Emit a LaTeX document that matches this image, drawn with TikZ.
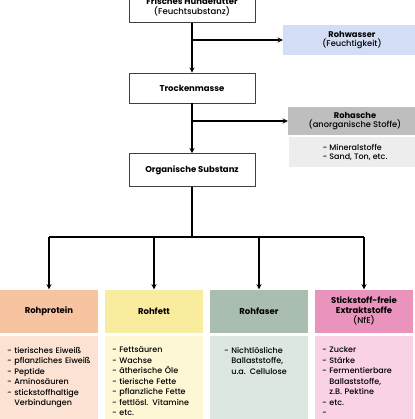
\documentclass[tikz,border=0pt]{standalone}
\usepackage{fontspec}
\setmainfont{Poppins}[UprightFont={* Medium}, BoldFont={* Bold}]
\usetikzlibrary{positioning}

\definecolor{wasserblau}{HTML}{D3DEF6}
\definecolor{aschegrau}{HTML}{BEBEBE}
\definecolor{aschehell}{HTML}{EDEDED}
\definecolor{proteinkopf}{HTML}{F8C3A0}
\definecolor{proteinhell}{HTML}{FCE2D3}
\definecolor{fettkopf}{HTML}{FAEC9E}
\definecolor{fetthell}{HTML}{FEF7D6}
\definecolor{faserkopf}{HTML}{A9BDB1}
\definecolor{faserhell}{HTML}{DCE7E0}
\definecolor{nfekopf}{HTML}{EA93BC}
\definecolor{nfehell}{HTML}{F9D2E5}

\newcommand{\spalte}[1]{\parbox[t][74pt][t]{\linewidth}{\raggedright #1}}
\newcommand{\weiter}{\hphantom{- }}

\tikzset{
  stufe/.style={draw=black!75, line width=0.7pt, fill=white, minimum width=126pt,
    minimum height=30pt, align=center, inner sep=1pt, font=\fontsize{8.5}{10}\selectfont},
  seite/.style={minimum height=28pt, align=center, inner sep=1pt,
    font=\fontsize{8.3}{9.5}\selectfont},
  kopf/.style={minimum width=98pt, minimum height=43pt, align=center, inner sep=1pt,
    font=\bfseries\fontsize{8.5}{10}\selectfont},
  liste/.style={minimum width=98pt, text width=84pt, inner ysep=11pt, align=left,
    font=\fontsize{8}{10.5}\selectfont},
  pfeil/.style={->, line width=1.3pt},
}

\begin{document}
\begin{tikzpicture}[x=1pt, y=1pt, >=stealth]
  \useasboundingbox (0,0) rectangle (414,-419);

  % Hauptstrang
  \node[stufe, minimum height=31pt] (futter) at (192,-7) {\textbf{Frisches Hundefutter}\\(Feuchtsubstanz)};
  \node[stufe] (trocken) at (192,-88) {\textbf{Trockenmasse}};
  \node[stufe, minimum height=33pt] (organ) at (192,-170) {\textbf{Organische Substanz}};

  % Seitenzweige
  \node[seite, fill=wasserblau, minimum width=138pt, minimum height=30pt] (wasser) at (352,-40)
    {\textbf{Rohwasser}\\(Feuchtigkeit)};
  \node[seite, fill=aschegrau, minimum width=134pt] (asche) at (355,-121)
    {\textbf{Rohasche}\\(anorganische Stoffe)};
  \node[seite, fill=aschehell, minimum width=132pt, minimum height=30pt, align=left,
    font=\fontsize{8}{9.5}\selectfont, below=2pt of asche] (ascheliste)
    {- Mineralstoffe\\- Sand, Ton, etc.};

  \draw[pfeil] (futter) -- (trocken);
  \draw[pfeil] (trocken) -- (organ);
  \draw[pfeil] (futter.south |- wasser.west) -- (wasser.west);
  \draw[pfeil] (trocken.south |- asche.west) -- (asche.west);

  % Naehrstoffgruppen
  \node[kopf, fill=proteinkopf] (protein) at (49,-311) {Rohprotein};
  \node[kopf, fill=fettkopf] (fett) at (154,-311) {Rohfett};
  \node[kopf, fill=faserkopf] (faser) at (259,-311) {Rohfaser};
  \node[kopf, fill=nfekopf] (nfe) at (364,-311) {Stickstoff-freie\\Extraktstoffe\\\mdseries(NfE)};

  \node[liste, fill=proteinhell, below=3pt of protein] (proteinliste) {\spalte{%
    - tierisches Eiweiß\\- pflanzliches Eiweiß\\- Peptide\\- Aminosäuren\\
    - stickstoffhaltige\\\weiter Verbindungen}};
  \node[liste, fill=fetthell, below=3pt of fett] (fettliste) {\spalte{%
    - Fettsäuren\\- Wachse\\- ätherische Öle\\- tierische Fette\\
    - pflanzliche Fette\\- fettlösl. Vitamine\\- etc.}};
  \node[liste, fill=faserhell, text width=70pt, below=3pt of faser] (faserliste) {\spalte{%
    - Nichtlösliche\\\weiter Ballaststoffe,\\\weiter u.a. Cellulose}};
  \node[liste, fill=nfehell, below=3pt of nfe] (nfeliste) {\spalte{%
    - Zucker\\- Stärke\\- Fermentierbare\\\weiter Ballaststoffe,\\\weiter z.B. Pektine\\
    - etc.\\-}};

  \coordinate (verteiler) at (192,-237);
  \draw[line width=1.3pt] (organ) -- (verteiler);
  \draw[line width=1.3pt] (protein.north |- verteiler) -- (nfe.north |- verteiler);
  \foreach \gruppe in {protein,fett,faser,nfe}
    \draw[pfeil] (\gruppe.north |- verteiler) -- (\gruppe.north);
\end{tikzpicture}
\end{document}
